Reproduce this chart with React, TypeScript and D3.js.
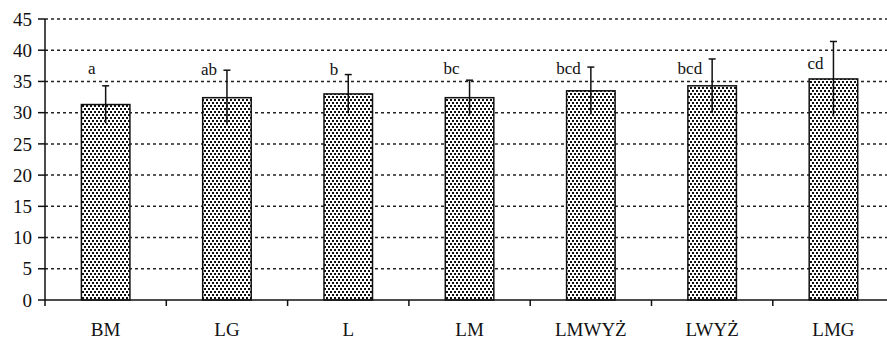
import React from "react";
import * as d3 from "d3";

const categories = ["BM", "LG", "L", "LM", "LMWYŻ", "LWYŻ", "LMG"];
const means = [31.3, 32.4, 33.0, 32.4, 33.5, 34.3, 35.4];
const errors = [3.0, 4.4, 3.1, 2.8, 3.8, 4.3, 6.0];
const groupLetters = ["a", "ab", "b", "bc", "bcd", "bcd", "cd"];
const letterLevels = [36.2, 36.1, 36.1, 36.2, 36.2, 36.2, 37.0];
const yTicks = [0, 5, 10, 15, 20, 25, 30, 35, 40, 45];

const W = 887;
const H = 340;
const left = 45;
const top = 19;
const bottom = 300;

export default function App() {
  const x = d3
    .scaleBand<string>()
    .domain(categories)
    .range([left, left + 121.3 * categories.length])
    .paddingInner(0.6)
    .paddingOuter(0.3);
  const step = x.step();
  const y = d3.scaleLinear().domain([0, 45]).range([bottom, top]);
  const font = "'Liberation Serif', 'Times New Roman', serif";

  return (
    <svg
      width={W}
      height={H}
      style={{ position: "absolute", left: 0, top: 0, background: "#fff" }}
      fontFamily={font}
    >
      <defs>
        <pattern id="dots" width={4} height={6} patternUnits="userSpaceOnUse">
          <rect width={4} height={6} fill="#fff" />
          <rect x={0} y={0} width={2} height={2} fill="#111" />
          <rect x={2} y={3} width={2} height={2} fill="#111" />
        </pattern>
      </defs>

      {yTicks.slice(1).map((t) => (
        <line
          key={"g" + t}
          x1={left}
          x2={W}
          y1={y(t)}
          y2={y(t)}
          stroke="#222"
          strokeWidth={1.5}
          strokeDasharray="3,3"
        />
      ))}

      {categories.map((c, i) => {
        const bx = x(c)!;
        const bw = x.bandwidth();
        const cx = bx + bw / 2;
        return (
          <g key={c}>
            <rect
              x={bx}
              y={y(means[i])}
              width={bw}
              height={y(0) - y(means[i])}
              fill="url(#dots)"
              stroke="#111"
              strokeWidth={1.5}
            />
            <line
              x1={cx}
              x2={cx}
              y1={y(means[i] - errors[i])}
              y2={y(means[i] + errors[i])}
              stroke="#111"
              strokeWidth={1.5}
            />
            <line
              x1={cx - 3.5}
              x2={cx + 3.5}
              y1={y(means[i] + errors[i])}
              y2={y(means[i] + errors[i])}
              stroke="#111"
              strokeWidth={1.5}
            />
            <text
              x={cx - 10}
              y={y(letterLevels[i])}
              textAnchor="end"
              fontSize={17}
              fill="#111"
            >
              {groupLetters[i]}
            </text>
            <text
              x={cx}
              y={336}
              textAnchor="middle"
              fontSize={19}
              fill="#111"
            >
              {c}
            </text>
          </g>
        );
      })}

      <line x1={left} x2={left} y1={top} y2={bottom} stroke="#111" strokeWidth={1.5} />
      <line x1={left} x2={W} y1={bottom} y2={bottom} stroke="#111" strokeWidth={1.5} />

      {yTicks.map((t) => (
        <g key={"t" + t}>
          <line x1={left - 7} x2={left} y1={y(t)} y2={y(t)} stroke="#111" strokeWidth={1.5} />
          <text
            x={32}
            y={y(t)}
            dy="0.35em"
            textAnchor="end"
            fontSize={19}
            fill="#111"
          >
            {t}
          </text>
        </g>
      ))}

      {d3.range(categories.length + 1).map((k) => (
        <line
          key={"bt" + k}
          x1={left + k * step}
          x2={left + k * step}
          y1={bottom}
          y2={bottom + 6}
          stroke="#111"
          strokeWidth={1.5}
        />
      ))}
    </svg>
  );
}
